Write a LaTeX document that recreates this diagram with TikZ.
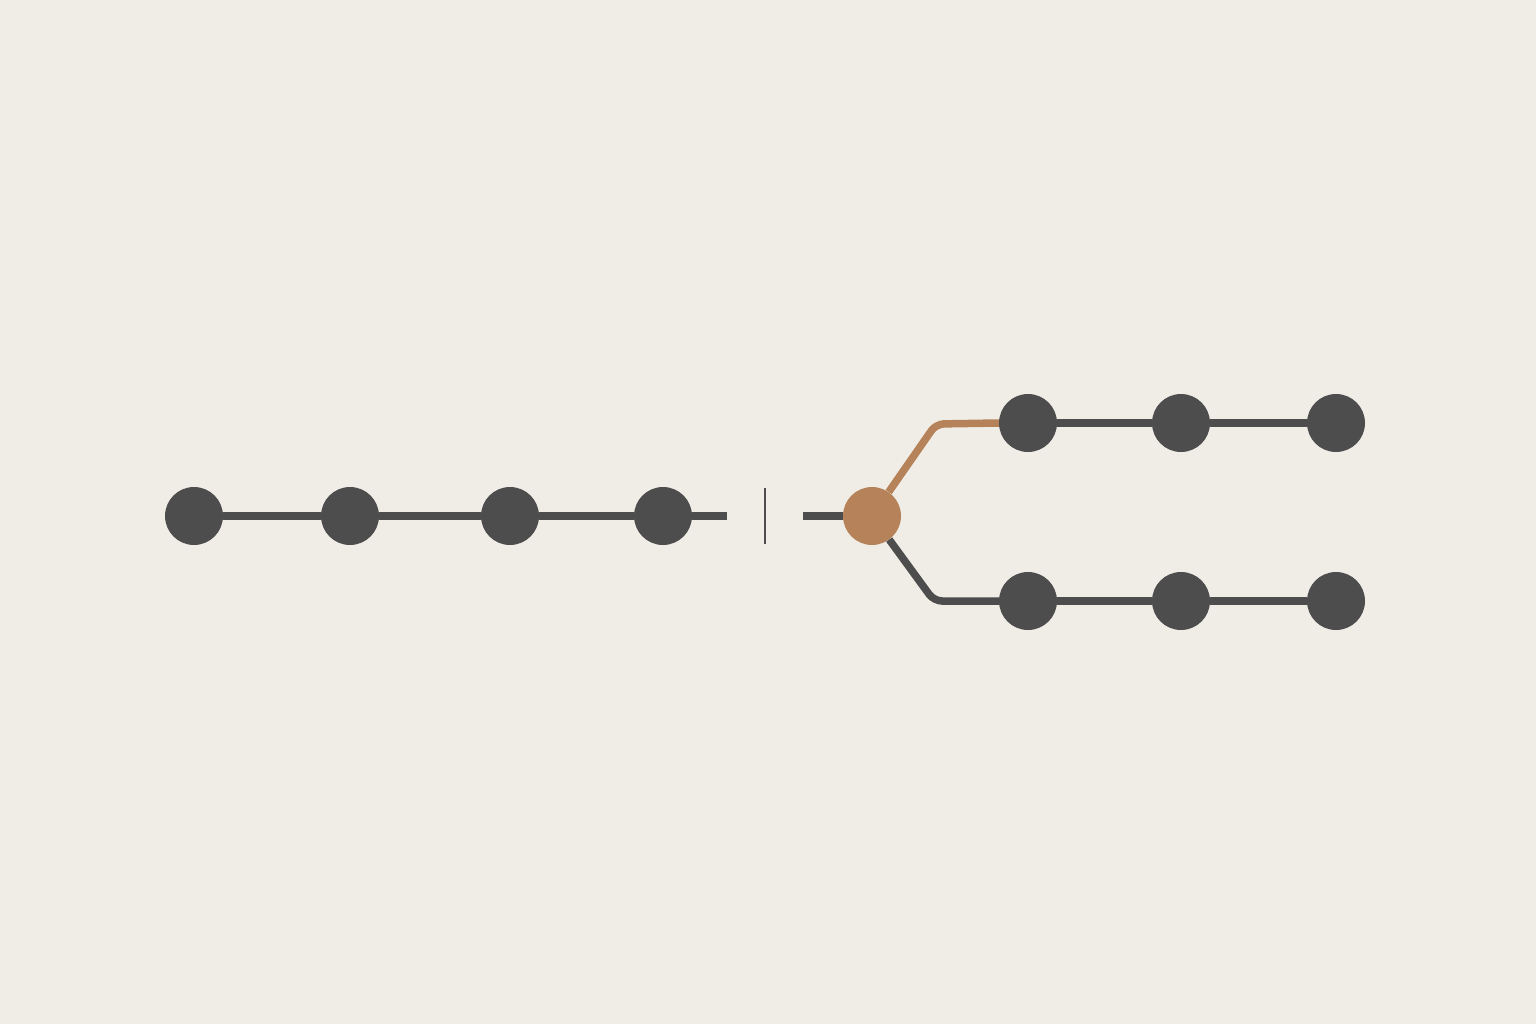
\documentclass[tikz,border=0pt]{standalone}
\definecolor{bg}{HTML}{F0EDE7}
\definecolor{dot}{HTML}{4D4D4D}
\definecolor{accent}{HTML}{B5825A}
\begin{document}
\begin{tikzpicture}[x=1pt,y=-1pt,
  dotnode/.style={circle,fill=dot,draw=none,minimum size=58pt,inner sep=0pt},
  accentnode/.style={circle,fill=accent,draw=none,minimum size=58pt,inner sep=0pt},
  link/.style={draw=dot,line width=7.5pt},
  accentlink/.style={draw=accent,line width=7.5pt},
  tick/.style={draw=dot,line width=2.5pt}]
\fill[bg] (0,0) rectangle (1536,1024);
\useasboundingbox (0,0) rectangle (1536,1024);
% left chain
\node[dotnode] (l1) at (194,516) {};
\node[dotnode] (l2) at (350,516) {};
\node[dotnode] (l3) at (510,516) {};
\node[dotnode] (l4) at (663,516) {};
\coordinate (lend) at (727,516);
\coordinate (t1) at (765,488);
\coordinate (t2) at (765,544);
\coordinate (rstart) at (803,516);
% split node
\node[accentnode] (o) at (872,516) {};
\coordinate (cu) at (936,424);
\coordinate (cl) at (934,601);
% upper chain
\node[dotnode] (u1) at (1028,423) {};
\node[dotnode] (u2) at (1181,423) {};
\node[dotnode] (u3) at (1336,423) {};
% lower chain
\node[dotnode] (d1) at (1028,601) {};
\node[dotnode] (d2) at (1181,601) {};
\node[dotnode] (d3) at (1336,601) {};
% connectors
\draw[link] (l1) -- (l2);
\draw[link] (l2) -- (l3);
\draw[link] (l3) -- (l4);
\draw[link] (l4) -- (lend);
\draw[tick] (t1) -- (t2);
\draw[link] (rstart) -- (o);
\draw[accentlink,rounded corners=8pt] (o) -- (cu) -- (u1.west);
\draw[link,rounded corners=8pt] (o) -- (cl) -- (d1.west);
\draw[link] (u1) -- (u2);
\draw[link] (u2) -- (u3);
\draw[link] (d1) -- (d2);
\draw[link] (d2) -- (d3);
\end{tikzpicture}
\end{document}
